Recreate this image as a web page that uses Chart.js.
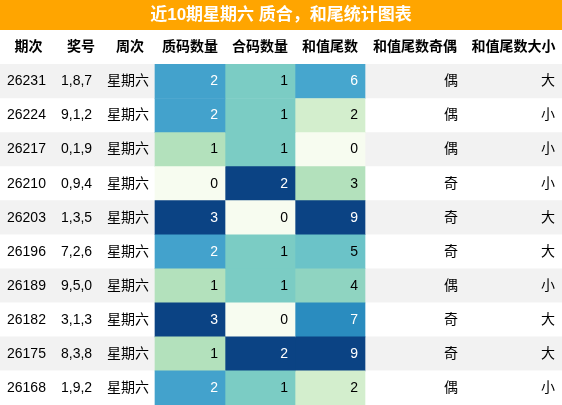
<!DOCTYPE html>
<html>
<head>
<meta charset="utf-8">
<script src="https://cdn.jsdelivr.net/npm/chart.js@4"></script>
<style>
  html, body { margin: 0; padding: 0; background: #fff; }
  #wrap { width: 562px; height: 405px; }
</style>
</head>
<body>
<div id="wrap"><canvas id="tableChart"></canvas></div>
<script>
const headers = ['期次', '奖号', '周次', '质码数量', '合码数量', '和值尾数', '和值尾数奇偶', '和值尾数大小'];
const periods = ['26231', '26224', '26217', '26210', '26203', '26196', '26189', '26182', '26175', '26168'];
const numbers = ['1,8,7', '9,1,2', '0,1,9', '0,9,4', '1,3,5', '7,2,6', '9,5,0', '3,1,3', '8,3,8', '1,9,2'];
const weekday = ['星期六', '星期六', '星期六', '星期六', '星期六', '星期六', '星期六', '星期六', '星期六', '星期六'];
const primeCount = [2, 2, 1, 0, 3, 2, 1, 3, 1, 2];
const compositeCount = [1, 1, 1, 2, 0, 1, 1, 0, 2, 1];
const sumTail = [6, 2, 0, 3, 9, 5, 4, 7, 9, 2];
const parity = ['偶', '偶', '偶', '奇', '奇', '奇', '偶', '奇', '奇', '偶'];
const size = ['大', '小', '小', '小', '大', '大', '小', '大', '大', '小'];

// column edges in pixels
const cols = [0, 57, 105, 155, 225, 295, 365, 465, 562];

const countColors = { 0: '#f7fcf0', 1: '#b3e1bc', 2: '#43a2cc', 3: '#0b4384' };
const compColors = { 0: '#f7fcf0', 1: '#7bccc4', 2: '#0b4384' };
const tailColors = { 0: '#f7fcf0', 2: '#d3eecd', 3: '#b3e1bc', 4: '#8fd4c1', 5: '#6bc3c8', 6: '#46a6ce', 7: '#2a8cbf', 9: '#0b4384' };
const darkCells = ['#0b4384', '#2a8cbf', '#43a2cc', '#46a6ce'];

const rowLabels = ['header'].concat(periods);

function cellDataset(values, colIdx, palette) {
  return {
    data: [null].concat(values.map(() => [cols[colIdx], cols[colIdx + 1]])),
    backgroundColor: [null].concat(values.map(v => palette[v])),
    barPercentage: 1, categoryPercentage: 1, grouped: false, borderWidth: 0
  };
}

const stripes = {
  data: rowLabels.map(() => [0, 562]),
  backgroundColor: rowLabels.map((_, i) => (i % 2 === 1 ? '#f2f2f2' : '#ffffff')),
  barPercentage: 1, categoryPercentage: 1, grouped: false, borderWidth: 0
};

const tablePlugin = {
  id: 'tableText',
  beforeDraw(chart) {
    const ctx = chart.ctx;
    ctx.save();
    ctx.fillStyle = '#ffa500';
    ctx.fillRect(0, 0, 562, 30);
    ctx.restore();
  },
  afterDatasetsDraw(chart) {
    const ctx = chart.ctx;
    const y = chart.scales.y;
    ctx.save();
    ctx.textBaseline = 'middle';
    ctx.font = 'bold 14px "Liberation Sans", "Noto Sans CJK SC", sans-serif';
    ctx.fillStyle = '#000';
    ctx.textAlign = 'center';
    headers.forEach((h, c) => ctx.fillText(h, (cols[c] + cols[c + 1]) / 2, y.getPixelForValue(0)));

    ctx.font = '14px "Liberation Sans", "Noto Sans CJK SC", sans-serif';
    periods.forEach((p, i) => {
      const py = y.getPixelForValue(i + 1);
      ctx.fillStyle = '#000';
      ctx.textAlign = 'left';
      ctx.fillText(p, 7, py);
      ctx.fillText(numbers[i], 61, py);
      ctx.fillText(weekday[i], 107, py);
      const nums = [[primeCount[i], countColors], [compositeCount[i], compColors], [sumTail[i], tailColors]];
      ctx.textAlign = 'right';
      nums.forEach(([v, pal], k) => {
        ctx.fillStyle = darkCells.includes(pal[v]) ? '#fff' : '#000';
        ctx.fillText(String(v), cols[4 + k] - 7, py);
      });
      ctx.fillStyle = '#000';
      ctx.fillText(parity[i], cols[7] - 7, py);
      ctx.fillText(size[i], cols[8] - 7, py);
    });
    ctx.restore();
  }
};

new Chart(document.getElementById('tableChart'), {
  type: 'bar',
  data: {
    labels: rowLabels,
    datasets: [
      cellDataset(primeCount, 3, countColors),
      cellDataset(compositeCount, 4, compColors),
      cellDataset(sumTail, 5, tailColors),
      stripes
    ]
  },
  options: {
    indexAxis: 'y',
    responsive: true,
    maintainAspectRatio: false,
    animation: false,
    layout: { padding: 0 },
    scales: {
      x: { display: false, min: 0, max: 562 },
      y: { display: false }
    },
    plugins: {
      legend: { display: false },
      tooltip: { enabled: false },
      title: {
        display: true,
        text: '近10期星期六 质合，和尾统计图表',
        color: '#fff',
        font: { size: 17, weight: 'bold', family: '"Liberation Sans", "Noto Sans CJK SC", sans-serif' },
        padding: { top: 5, bottom: 5 }
      }
    }
  },
  plugins: [tablePlugin]
});
</script>
</body>
</html>
